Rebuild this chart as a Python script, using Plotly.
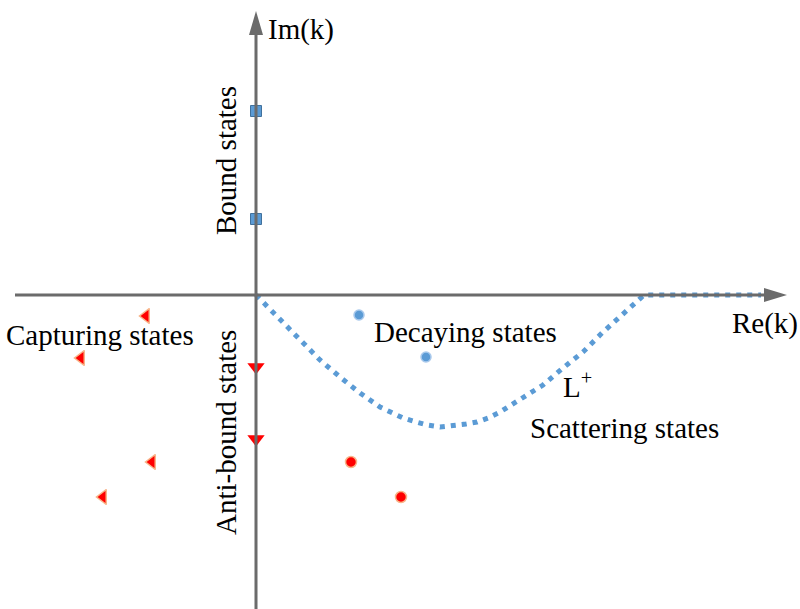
import plotly.graph_objects as go

# Coordinates: complex k-plane, origin at axes crossing (arbitrary units)
bound_x = [0, 0]
bound_y = [184, 76]

antibound_x = [0, 0]
antibound_y = [-72, -144]

capturing_x = [-110, -175, -104, -153]
capturing_y = [-21, -63, -167, -202]

decaying_x = [103, 170]
decaying_y = [-20, -62]

incoming_x = [95, 145]
incoming_y = [-167, -202]

contour_x = [0, 14, 27, 46, 64, 84, 104, 124, 147, 160, 171, 184, 197, 210, 221, 232,
             244, 264, 287, 307, 327, 346, 364, 382, 388, 505]
contour_y = [0, -14, -28, -47, -65, -82, -98, -112, -123, -127, -130, -132, -131, -129,
             -127, -123, -117, -105, -90, -73, -57, -38, -22, -5, 0, 0]

GRAY = "#6b6b6b"
BLUE = "#5b9bd5"
FONT = "Liberation Serif, Times New Roman, serif"
FS = 29

fig = go.Figure()

shapes = [
    dict(type="line", x0=-241, y0=0, x1=512, y1=0, line=dict(color=GRAY, width=3)),
    dict(type="line", x0=0, y0=-314, x1=0, y1=262, line=dict(color=GRAY, width=3)),
    dict(type="path", path="M 531 0 L 508 7 L 508 -7 Z", fillcolor=GRAY, line=dict(width=0)),
    dict(type="path", path="M 0 284 L -7 260 L 7 260 Z", fillcolor=GRAY, line=dict(width=0)),
]

fig.add_trace(go.Scatter(x=contour_x, y=contour_y, mode="lines",
                         line=dict(color=BLUE, width=5, dash="5px,6px", shape="linear"),
                         hoverinfo="skip"))

fig.add_trace(go.Scatter(x=bound_x, y=bound_y, mode="markers",
                         marker=dict(symbol="square", size=11, color=BLUE,
                                     line=dict(color="#41719c", width=1))))
fig.add_trace(go.Scatter(x=antibound_x, y=antibound_y, mode="markers",
                         marker=dict(symbol="triangle-down", size=15, color="#ff0000",
                                     line=dict(color="#ff0000", width=0))))
fig.add_trace(go.Scatter(x=capturing_x, y=capturing_y, mode="markers",
                         marker=dict(symbol="triangle-left", size=13, color="#ff0000",
                                     line=dict(color="#f8b68a", width=1.5))))
fig.add_trace(go.Scatter(x=decaying_x, y=decaying_y, mode="markers",
                         marker=dict(symbol="circle", size=10, color=BLUE,
                                     line=dict(color="#a9c9ec", width=1.5))))
fig.add_trace(go.Scatter(x=incoming_x, y=incoming_y, mode="markers",
                         marker=dict(symbol="circle", size=11, color="#ff0000",
                                     line=dict(color="#f8b68a", width=1.5))))

labels = [
    dict(x=45, y=266, text="Im(k)"),
    dict(x=-156, y=-40, text="Capturing states"),
    dict(x=209, y=-37, text="Decaying states"),
    dict(x=321, y=-90, text="L<sup>+</sup>"),
    dict(x=368, y=-133, text="Scattering states"),
    dict(x=509, y=-28, text="Re(k)"),
]
annotations = [dict(x=l["x"], y=l["y"], text=l["text"], showarrow=False,
                    xref="x", yref="y", font=dict(family=FONT, size=FS, color="black"))
               for l in labels]
annotations += [
    dict(x=-30, y=134, text="Bound states", textangle=-90, showarrow=False,
         xref="x", yref="y", font=dict(family=FONT, size=FS, color="black")),
    dict(x=-30, y=-138, text="Anti-bound states", textangle=-90, showarrow=False,
         xref="x", yref="y", font=dict(family=FONT, size=FS, color="black")),
]

fig.update_layout(
    width=800, height=609,
    margin=dict(l=0, r=0, t=0, b=0),
    paper_bgcolor="white", plot_bgcolor="white",
    showlegend=False,
    shapes=shapes,
    annotations=annotations,
    xaxis=dict(range=[-256, 544], visible=False, fixedrange=True),
    yaxis=dict(range=[-314, 295], visible=False, fixedrange=True),
)

fig.write_html("out.html", config={"displayModeBar": False},
               post_script="document.body.style.margin='0px';")
